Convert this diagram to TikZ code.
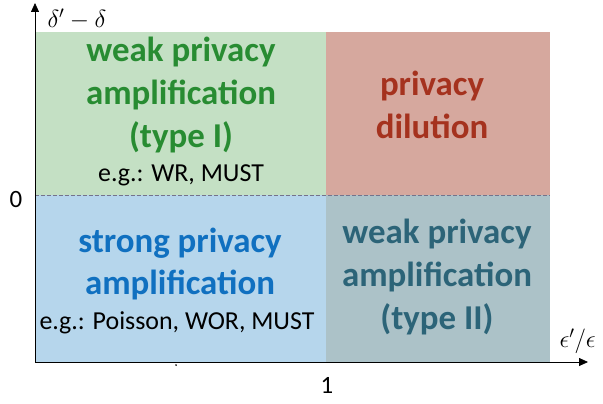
\documentclass[tikz,border=0pt]{standalone}
\usepackage{amsmath, amssymb}
\usepackage{fontspec}
\setmainfont{Carlito}
\usetikzlibrary{arrows.meta}

\definecolor{weakfill}{RGB}{196,224,196}
\definecolor{weaktext}{RGB}{40,140,50}
\definecolor{dilufill}{RGB}{214,168,158}
\definecolor{dilutext}{RGB}{165,50,30}
\definecolor{strongfill}{RGB}{182,214,236}
\definecolor{strongtext}{RGB}{16,112,192}
\definecolor{typetwofill}{RGB}{172,194,200}
\definecolor{typetwotext}{RGB}{44,100,120}

\begin{document}
\begin{tikzpicture}[%
x=1bp, y=1bp,
title/.style={align=center, font=\fontsize{35}{43}\selectfont\bfseries},
example/.style={align=center, font=\fontsize{26}{30}\selectfont},
axislabel/.style={font=\fontsize{25}{30}\selectfont},
]
\useasboundingbox (0,0) rectangle (603,403);
%% regions;
\fill [weakfill] (35,208) rectangle (326,371);
\fill [dilufill] (326,208) rectangle (550,371);
\fill [strongfill] (35,41) rectangle (326,208);
\fill [typetwofill] (326,41) rectangle (550,208);
%% dashed border;
\draw [gray!90!blue, dash pattern=on 4pt off 2pt, line width=0.6pt] (35,208) -- (550,208);
%% axes;
\coordinate (origin) at (35,41);
\coordinate (ytip) at (35,400);
\coordinate (xtip) at (588,41);
\draw [color=black, line width=0.8pt, -{Triangle[length=9pt,width=8pt]}] (origin) -- (ytip);
\draw [color=black, line width=0.8pt, -{Triangle[length=9pt,width=8pt]}] (origin) -- (xtip);
\fill (176,38) circle (1pt);
%% axis labels;
\node [axislabel, anchor=west] (ylab) at (44,384) {$\delta' - \delta$};
\node [axislabel, anchor=west] (xlab) at (556,62) {$\epsilon'/\epsilon$};
\node [axislabel] (zero) at (16,203) {0};
\node [axislabel] (one) at (327,18) {1};
%% label;
\node [title, text=weaktext] (weakone) at (181,308) {weak privacy\\amplification\\(type I)};
\node [example] (weakoneeg) at (181,228) {e.g.: WR, MUST};
%% label;
\node [title, text=dilutext] (dilution) at (432,298) {privacy\\dilution};
%% label;
\node [title, text=strongtext] (strong) at (180,139) {strong privacy\\amplification};
\node [example] (strongeg) at (177,80) {e.g.: Poisson, WOR, MUST};
%% label;
\node [title, text=typetwotext] (weaktwo) at (437,126) {weak privacy\\amplification\\(type II)};
\end{tikzpicture}
\end{document}
